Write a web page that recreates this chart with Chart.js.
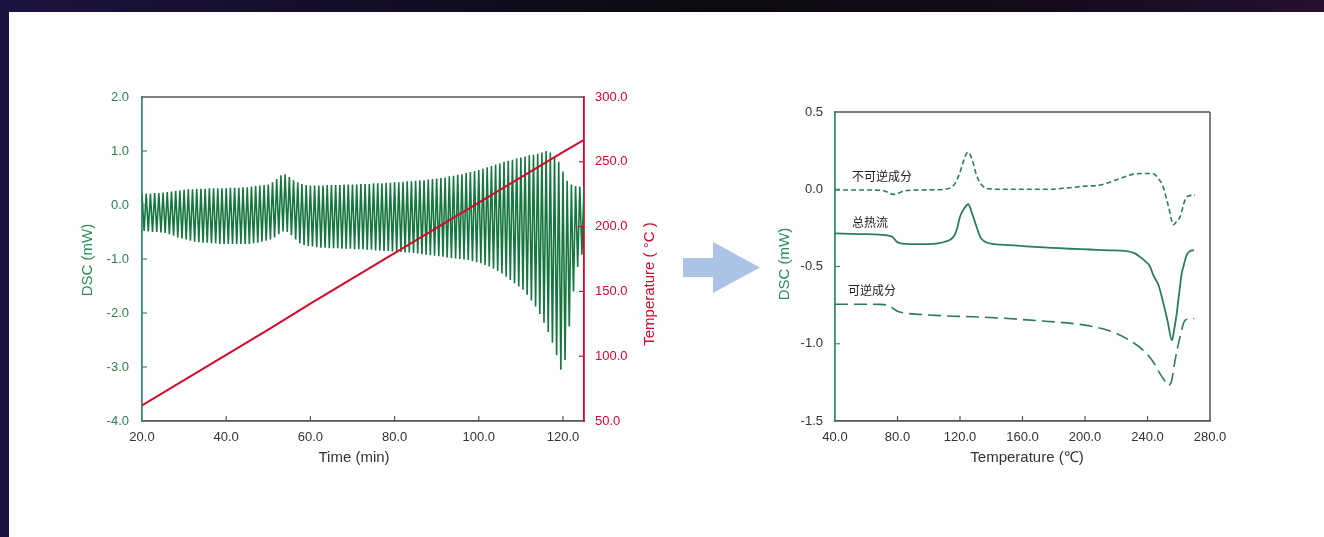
<!DOCTYPE html>
<html><head><meta charset="utf-8">
<script src="https://cdn.jsdelivr.net/npm/chart.js@4.4.1/dist/chart.umd.min.js"></script>
<style>
html,body{margin:0;padding:0;}
body{width:1324px;height:537px;position:relative;overflow:hidden;background:linear-gradient(90deg,#1d1340 0%,#140d28 25%,#0c0a0e 55%,#150b1d 80%,#25102e 100%);}
#panel{position:absolute;left:9px;top:12px;right:0;bottom:0;background:#fefefe;}
#c1{position:absolute;left:0;top:0;}
#c2{position:absolute;left:700px;top:0;}
#arrow{position:absolute;left:0;top:0;}
</style></head><body>
<div id="panel"></div>
<svg id="arrow" width="1324" height="537"><polygon points="683,258 713,258 713,242 760,267.5 713,293 713,277 683,277" fill="#adc3e6"/></svg>
<canvas id="c1" width="700" height="500"></canvas>
<canvas id="c2" width="624" height="500"></canvas>
<script>
// ---------- Left chart data (modulated DSC, one cycle per minute) ----------
const cycleStart = 20;          // min, first modulation cycle
const cyclePeriod = 1;          // min per modulation cycle
const dscPeak = [
 0.20,0.21,0.21,0.22,0.22,0.23,0.24,0.25,0.26,0.27,
 0.28,0.29,0.29,0.30,0.30,0.30,0.31,0.31,0.31,0.31,
 0.31,0.32,0.32,0.32,0.33,0.33,0.34,0.35,0.36,0.37,
 0.38,0.42,0.48,0.55,0.57,0.52,0.46,0.42,0.39,0.37,
 0.36,0.36,0.36,0.36,0.37,0.37,0.37,0.37,0.38,0.38,
 0.38,0.38,0.39,0.39,0.39,0.40,0.40,0.40,0.41,0.41,
 0.42,0.42,0.43,0.44,0.44,0.45,0.46,0.46,0.47,0.48,
 0.49,0.50,0.51,0.53,0.54,0.56,0.57,0.59,0.61,0.63,
 0.65,0.67,0.70,0.72,0.75,0.77,0.80,0.82,0.84,0.86,
 0.88,0.90,0.92,0.93,0.95,0.97,1.00,0.97,0.90,0.80,
 0.62,0.45,0.38,0.35,0.34,0.34];
const dscTrough = [
 -0.48,-0.49,-0.50,-0.50,-0.51,-0.52,-0.54,-0.57,-0.60,-0.62,
 -0.64,-0.66,-0.68,-0.69,-0.70,-0.70,-0.71,-0.71,-0.72,-0.72,
 -0.72,-0.72,-0.72,-0.72,-0.72,-0.72,-0.71,-0.70,-0.68,-0.66,
 -0.64,-0.60,-0.54,-0.49,-0.50,-0.56,-0.64,-0.71,-0.74,-0.76,
 -0.77,-0.78,-0.79,-0.79,-0.80,-0.80,-0.80,-0.81,-0.81,-0.81,
 -0.82,-0.82,-0.82,-0.83,-0.83,-0.84,-0.84,-0.85,-0.85,-0.86,
 -0.87,-0.87,-0.88,-0.88,-0.89,-0.90,-0.91,-0.92,-0.93,-0.94,
 -0.95,-0.96,-0.97,-0.98,-0.99,-1.00,-1.01,-1.02,-1.04,-1.06,
 -1.08,-1.11,-1.14,-1.18,-1.22,-1.27,-1.33,-1.39,-1.45,-1.51,
 -1.57,-1.66,-1.77,-1.88,-2.02,-2.18,-2.35,-2.55,-2.78,-3.05,
 -2.87,-2.25,-1.60,-1.15,-0.92];
const tempTime = [20, 30, 40, 50, 60, 70, 80, 90, 100, 110, 120, 125];
const tempValue = [62, 81.5, 101, 120.5, 140.5, 160, 179.5, 199, 218.5, 238, 257.5, 267];
const timeTicks = [20, 40, 60, 80, 100, 120];
const dscTicksL = [2, 1, 0, -1, -2, -3, -4];
const tempTicks = [50, 100, 150, 200, 250, 300];

// ---------- Right chart data ----------
const nrT = [40,60,70,74,77,80,83.7,90,100,110,114,117,120,122.5,125,127.5,130.6,133,137,145,160,178,190,200,209.6,222.4,231,238,243.5,247,250,253.4,256.6,258.5,260.8,264,266.1,270.4];
const nrV = [-0.005,-0.005,-0.007,-0.02,-0.033,-0.028,-0.012,-0.006,-0.004,0.0,0.01,0.04,0.11,0.19,0.24,0.2,0.09,0.04,0.005,0.0,0.0,0.0,0.01,0.02,0.027,0.07,0.098,0.102,0.1,0.07,0.016,-0.11,-0.23,-0.21,-0.18,-0.07,-0.044,-0.038];
const totT = [40,55,70,74,77,79.5,82,90,100,106,110.4,115.7,118,120,123,125.3,127.5,130.6,133,136,142,152,170,190,203,215,226.7,232,235.2,238.5,241.6,243.7,247,250.2,253,255.6,257.2,258.7,260.3,261.9,263,265,267.2,269.8];
const totV = [-0.286,-0.29,-0.295,-0.30,-0.31,-0.34,-0.35,-0.355,-0.355,-0.35,-0.34,-0.31,-0.26,-0.178,-0.12,-0.097,-0.15,-0.243,-0.31,-0.34,-0.355,-0.362,-0.375,-0.385,-0.39,-0.395,-0.40,-0.415,-0.438,-0.465,-0.50,-0.556,-0.62,-0.74,-0.86,-0.978,-0.90,-0.805,-0.67,-0.545,-0.50,-0.427,-0.40,-0.394];
const revT = [40,55,68.8,73,77.3,80,83.7,94.4,111.5,132.8,151,171.2,188.3,203.2,216,226.7,237.3,243.7,248,251,253.3,255.5,257.6,260.8,264,267,270];
const revV = [-0.744,-0.744,-0.745,-0.75,-0.772,-0.79,-0.80,-0.81,-0.82,-0.827,-0.837,-0.852,-0.865,-0.885,-0.917,-0.967,-1.043,-1.118,-1.193,-1.24,-1.27,-1.237,-1.11,-0.956,-0.848,-0.84,-0.837];
const seriesNames = ['不可逆成分', '总热流', '可逆成分'];
const tempTicksR = [40, 80, 120, 160, 200, 240, 280];
const dscTicksR = [0.5, 0.0, -0.5, -1.0, -1.5];

// ---------- styles / positions (kept apart from data) ----------
const FONT = '"Liberation Sans", Arial, sans-serif';
const GREEN = '#17763f', RED = '#cf0a2e', GRAY = '#555555', AXG = '#3a8c6a', CURVE = '#2b7d5c';
const labelAnchors = [[50.9, 0.085], [50.9, -0.213], [48.3, -0.654]]; // data coords of inline labels

// build point tables
const dscPts = [];
dscPeak.forEach((v, i) => {
  const t = cycleStart + i * cyclePeriod;
  dscPts.push({x: t, y: v});
  if (i < dscTrough.length) dscPts.push({x: t + cyclePeriod / 2, y: dscTrough[i]});
});
const tempPts = tempTime.map((t, i) => ({x: t, y: tempValue[i]}));
const zip = (a, b) => a.map((x, i) => ({x, y: b[i]}));

function fixTicks(arr){ return s => { s.ticks = arr.map(v => ({value: v})); }; }
function line(ctx, x1, y1, x2, y2, color, w){ ctx.save(); ctx.strokeStyle = color; ctx.lineWidth = w; ctx.beginPath(); ctx.moveTo(x1, y1); ctx.lineTo(x2, y2); ctx.stroke(); ctx.restore(); }
function vtext(ctx, txt, x, y, color){ ctx.save(); ctx.translate(x, y); ctx.rotate(-Math.PI/2); ctx.fillStyle = color; ctx.font = '15px ' + FONT; ctx.textAlign = 'center'; ctx.textBaseline = 'middle'; ctx.fillText(txt, 0, 0); ctx.restore(); }
function htext(ctx, txt, x, y, color){ ctx.save(); ctx.fillStyle = color; ctx.font = '15px ' + FONT; ctx.textAlign = 'center'; ctx.textBaseline = 'middle'; ctx.fillText(txt, x, y); ctx.restore(); }

const leftDeco = {
  id: 'leftDeco',
  afterDraw(chart){
    const {ctx, chartArea: ca, scales} = chart;
    line(ctx, ca.left, ca.top, ca.right, ca.top, GRAY, 1.5);
    scales.x.ticks.forEach(t => { const p = scales.x.getPixelForValue(t.value); if (p > ca.left + 1 && p < ca.right - 1) line(ctx, p, ca.bottom, p, ca.bottom - 5, GRAY, 1.2); });
    scales.y.ticks.forEach(t => { const p = scales.y.getPixelForValue(t.value); if (p > ca.top + 1 && p < ca.bottom - 1) line(ctx, ca.left, p, ca.left + 5, p, AXG, 1.2); });
    scales.y2.ticks.forEach(t => { const p = scales.y2.getPixelForValue(t.value); if (p > ca.top + 1 && p < ca.bottom - 1) line(ctx, ca.right, p, ca.right - 5, p, RED, 1.2); });
    htext(ctx, 'Time (min)', 354, 458, '#333');
    vtext(ctx, 'DSC (mW)', 88, 260, '#2e8a5a');
    vtext(ctx, 'Temperature ( °C )', 650, 284, RED);
  }
};

function axisOpts(min, max, ticks, color, pad, borderColor, fit, fmt){
  return {
    type: 'linear', min, max,
    afterBuildTicks: fixTicks(ticks),
    afterFit: fit,
    ticks: {color, padding: pad, font: {size: 13, family: FONT}, callback: fmt || (v => Number(v).toFixed(1)), autoSkip: false, maxRotation: 0},
    grid: {display: true, drawOnChartArea: false, drawTicks: false},
    border: {color: borderColor, width: 1.8}
  };
}

new Chart(document.getElementById('c1'), {
  type: 'line',
  data: {datasets: [
    {label: 'Temperature', data: tempPts, yAxisID: 'y2', borderColor: RED, borderWidth: 2, pointRadius: 0, tension: 0},
    {label: 'DSC', data: dscPts, yAxisID: 'y', borderColor: GREEN, borderWidth: 1.6, pointRadius: 0, tension: 0}
  ]},
  options: {
    responsive: false, animation: false, devicePixelRatio: 1,
    layout: {padding: {top: 97, left: 0, right: 0, bottom: 0}},
    plugins: {legend: {display: false}, tooltip: {enabled: false}},
    scales: {
      x: Object.assign(axisOpts(20, 125, timeTicks, '#333', 9, GRAY, s => { s.height = 79; }), {position: 'bottom'}),
      y: Object.assign(axisOpts(-4, 2, dscTicksL, '#2e7d50', 13, AXG, s => { s.width = 142; }), {position: 'left'}),
      y2: Object.assign(axisOpts(50, 300, tempTicks, RED, 11, RED, s => { s.width = 116; }), {position: 'right'})
    }
  },
  plugins: [leftDeco]
});

const rightDeco = {
  id: 'rightDeco',
  afterDraw(chart){
    const {ctx, chartArea: ca, scales} = chart;
    line(ctx, ca.left, ca.top, ca.right, ca.top, GRAY, 1.5);
    line(ctx, ca.right, ca.top, ca.right, ca.bottom, GRAY, 1.5);
    scales.x.ticks.forEach(t => { const p = scales.x.getPixelForValue(t.value); if (p > ca.left + 1 && p < ca.right - 1) line(ctx, p, ca.bottom, p, ca.bottom - 5, GRAY, 1.2); });
    scales.y.ticks.forEach(t => { const p = scales.y.getPixelForValue(t.value); if (p > ca.top + 1 && p < ca.bottom - 1) line(ctx, ca.left, p, ca.left + 5, p, AXG, 1.2); });
    htext(ctx, 'Temperature (℃)', 1027 - 700, 458, '#333');
    vtext(ctx, 'DSC (mW)', 785 - 700, 264, '#2e8a5a');
    ctx.save();
    ctx.fillStyle = '#222'; ctx.font = '12px "Noto Sans CJK SC", sans-serif'; ctx.textAlign = 'left'; ctx.textBaseline = 'middle';
    seriesNames.forEach((n, i) => {
      ctx.fillText(n, scales.x.getPixelForValue(labelAnchors[i][0]), scales.y.getPixelForValue(labelAnchors[i][1]));
    });
    ctx.restore();
  }
};

new Chart(document.getElementById('c2'), {
  type: 'line',
  data: {datasets: [
    {label: seriesNames[0], data: zip(nrT, nrV), borderColor: CURVE, borderWidth: 1.6, borderDash: [5, 3], pointRadius: 0, cubicInterpolationMode: 'monotone'},
    {label: seriesNames[1], data: zip(totT, totV), borderColor: CURVE, borderWidth: 1.8, pointRadius: 0, cubicInterpolationMode: 'monotone'},
    {label: seriesNames[2], data: zip(revT, revV), borderColor: CURVE, borderWidth: 1.6, borderDash: [13, 6], pointRadius: 0, cubicInterpolationMode: 'monotone'}
  ]},
  options: {
    responsive: false, animation: false, devicePixelRatio: 1,
    layout: {padding: {top: 112, left: 0, right: 114, bottom: 0}},
    plugins: {legend: {display: false}, tooltip: {enabled: false}},
    scales: {
      x: Object.assign(axisOpts(40, 280, tempTicksR, '#333', 9, GRAY, s => { s.height = 79; }), {position: 'bottom'}),
      y: Object.assign(axisOpts(-1.5, 0.5, dscTicksR, '#333', 12, AXG, s => { s.width = 135; }), {position: 'left'})
    }
  },
  plugins: [rightDeco]
});
</script>
</body></html>
